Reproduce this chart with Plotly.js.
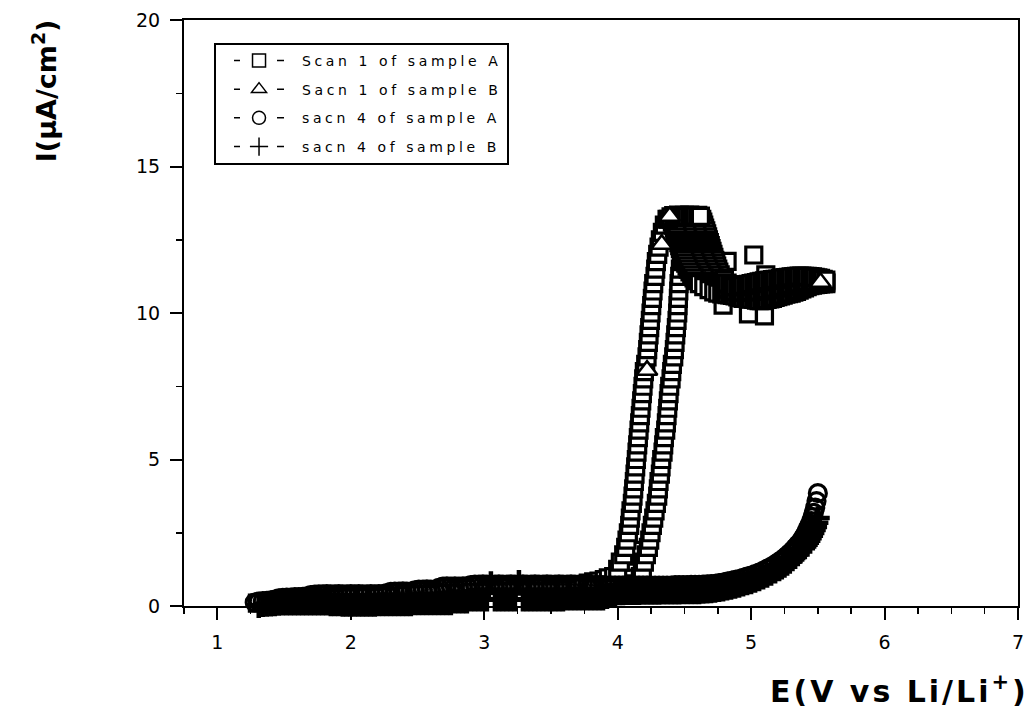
<!DOCTYPE html>
<html><head><meta charset="utf-8">
<script src="https://cdn.plot.ly/plotly-3.0.1.min.js"></script>
<style>
html,body{margin:0;padding:0;background:#fff}
#chart{width:1031px;height:721px}
.legendtext{letter-spacing:3.6px}
g.annotation[data-index="1"] text{letter-spacing:3px}
</style>
</head><body><div id="chart"></div>
<script>
// ---------- legend / series names ----------
const seriesNames = ["Scan 1 of sample A", "Sacn 1 of sample B", "sacn 4 of sample A", "sacn 4 of sample B"];
const xTickVals = [1, 2, 3, 4, 5, 6, 7];
const yTickVals = [0, 5, 10, 15, 20];

// ---------- Scan 1 of sample A (squares) ----------
const sqBandE = [1.30,1.40,1.50,1.60,1.70,1.80,1.90,2.00,2.10,2.20,2.30,2.40,2.50,2.60,2.70,2.80,2.90,3.00,3.10,3.20,3.30,3.40,3.50,3.60,3.70];
const sqBandI = [0.10,0.15,0.20,0.22,0.25,0.25,0.26,0.28,0.30,0.30,0.32,0.35,0.38,0.40,0.42,0.45,0.47,0.48,0.50,0.50,0.52,0.52,0.53,0.54,0.55];
const sqFootE = [3.74,3.78,3.82,3.86,3.90,3.93,4.08,4.09,4.10,4.11,4.12,4.13];
const sqFootI = [0.72,0.78,0.82,0.85,0.90,0.96,0.90,1.10,1.30,1.50,1.70,1.90];
const colI = [1.00,1.25,1.50,1.75,2.00,2.25,2.50,2.75,3.00,3.25,3.50,3.75,4.00,4.25,4.50,4.75,5.00,5.25,5.50,5.75,6.00,6.25,6.50,6.75,7.00,7.25,7.50,7.75,8.00,8.25,8.50,8.75,9.00,9.25,9.50,9.75,10.00,10.25,10.50,10.75,11.00,11.25,11.50,11.75,12.00,12.25,12.50,12.75,13.00,13.20];
const sqLeftE = [3.97,4.00,4.02,4.045,4.06,4.07,4.08,4.09,4.095,4.10,4.11,4.115,4.12,4.125,4.13,4.135,4.14,4.145,4.15,4.155,4.16,4.165,4.17,4.175,4.18,4.185,4.19,4.195,4.20,4.21,4.22,4.225,4.23,4.235,4.24,4.245,4.25,4.255,4.26,4.265,4.27,4.28,4.285,4.29,4.30,4.31,4.32,4.335,4.35,4.37];
const sqRightE = [4.17,4.185,4.20,4.215,4.23,4.24,4.25,4.26,4.27,4.28,4.29,4.30,4.305,4.31,4.32,4.325,4.33,4.34,4.345,4.35,4.36,4.365,4.37,4.375,4.38,4.385,4.39,4.40,4.405,4.41,4.42,4.425,4.43,4.435,4.44,4.445,4.45,4.452,4.455,4.458,4.46,4.465,4.47,4.48,4.49,4.50,4.515,4.53,4.55,4.58];
const sqScatE = [4.82,5.02,5.11,4.79,4.98,5.10];
const sqScatI = [11.76,11.98,11.30,10.27,9.97,9.90];
// peak lobe (descending branches)
const lobeOuterE = [4.620,4.630,4.638,4.645,4.652,4.660,4.667,4.674,4.680,4.687,4.694,4.700,4.707,4.714,4.721,4.728,4.735,4.742,4.750,4.758,4.768,4.780,4.795,4.815,4.840];
const lobeOuterI = [13.30,13.20,13.10,13.00,12.90,12.80,12.70,12.60,12.50,12.40,12.30,12.20,12.10,12.00,11.90,11.80,11.70,11.60,11.50,11.40,11.30,11.20,11.10,11.00,10.95];
const lobeMid2E = [4.540,4.555,4.560,4.570,4.575,4.580,4.590,4.595,4.600,4.608,4.615,4.620,4.628,4.635,4.643,4.650,4.660,4.670,4.680,4.692,4.705,4.722,4.740,4.762,4.790];
const lobeMid2I = [13.30,13.20,13.10,13.00,12.90,12.80,12.70,12.60,12.50,12.40,12.30,12.20,12.10,12.00,11.90,11.80,11.70,11.60,11.50,11.40,11.30,11.20,11.10,11.00,10.95];
const lobeMid1E = [4.460,4.480,4.485,4.495,4.500,4.505,4.515,4.520,4.525,4.533,4.540,4.545,4.553,4.560,4.568,4.575,4.585,4.595,4.605,4.617,4.630,4.647,4.665,4.687,4.720,4.760];
const lobeMid1I = [13.30,13.20,13.10,13.00,12.90,12.80,12.70,12.60,12.50,12.40,12.30,12.20,12.10,12.00,11.90,11.80,11.70,11.60,11.50,11.40,11.30,11.20,11.10,11.00,10.90,10.85];
const lobeInnerE = [4.405,4.410,4.420,4.425,4.430,4.440,4.445,4.450,4.458,4.465,4.470,4.478,4.485,4.493,4.500,4.510,4.520,4.530,4.542,4.555,4.572,4.590,4.612,4.645,4.685,4.720,4.750,4.780];
const lobeInnerI = [13.20,13.10,13.00,12.90,12.80,12.70,12.60,12.50,12.40,12.30,12.20,12.10,12.00,11.90,11.80,11.70,11.60,11.50,11.40,11.30,11.20,11.10,11.00,10.90,10.80,10.72,10.68,10.65];
const sqPeakE = [4.38,4.40,4.42,4.44,4.46,4.48,4.50,4.52,4.54,4.56,4.58,4.60,4.62];
const sqPeakI = [13.20,13.28,13.32,13.30,13.34,13.31,13.33,13.30,13.34,13.32,13.31,13.33,13.30];
// plateau
const platE = [4.80,4.82,4.84,4.86,4.88,4.90,4.92,4.94,4.96,4.98,5.00,5.02,5.04,5.06,5.08,5.10,5.12,5.14,5.16,5.18,5.20,5.22,5.24,5.26,5.28,5.30,5.32,5.34,5.36,5.38,5.40,5.42,5.44,5.46,5.48,5.50,5.52,5.54,5.56];
const platLowI = [10.65,10.63,10.62,10.60,10.58,10.55,10.52,10.50,10.50,10.48,10.47,10.46,10.44,10.42,10.42,10.44,10.46,10.48,10.50,10.53,10.56,10.58,10.61,10.64,10.66,10.68,10.71,10.74,10.78,10.82,10.86,10.90,10.93,10.95,10.97,10.98,10.99,11.00,11.00];
const platMidI = [10.90,10.85,10.80,10.76,10.74,10.72,10.72,10.72,10.73,10.73,10.74,10.74,10.75,10.75,10.76,10.78,10.80,10.81,10.83,10.85,10.87,10.89,10.91,10.93,10.95,10.97,10.99,11.01,11.03,11.05,11.07,11.08,11.09,11.09,11.09,11.08,11.07,11.06,11.05];
const platUpI = [11.12,11.02,10.96,10.92,10.90,10.90,10.92,10.94,10.96,10.98,11.00,11.02,11.04,11.06,11.08,11.10,11.11,11.12,11.14,11.15,11.16,11.18,11.20,11.21,11.22,11.23,11.24,11.25,11.26,11.26,11.25,11.25,11.24,11.23,11.22,11.20,11.18,11.15,11.12];

// ---------- Scan 1 of sample B (triangles) ----------
const triE = [1.35,1.80,2.30,2.80,3.30,3.80,4.22,4.33,4.39,5.52];
const triI = [0.12,0.25,0.35,0.45,0.55,0.62,8.05,12.35,13.30,11.05];

// ---------- Scan 4 of samples A (circles) and B (plus), shared potentials ----------
const E4 = [1.28,1.31,1.34,1.37,1.40,1.43,1.46,1.49,1.52,1.55,
1.58,1.61,1.64,1.67,1.70,1.73,1.76,1.79,1.82,1.85,
1.88,1.91,1.94,1.97,2.00,2.03,2.06,2.09,2.12,2.15,
2.18,2.21,2.24,2.27,2.30,2.33,2.36,2.39,2.42,2.45,
2.48,2.51,2.54,2.57,2.60,2.63,2.66,2.69,2.72,2.75,
2.78,2.81,2.84,2.87,2.90,2.93,2.96,2.99,3.02,3.05,
3.08,3.11,3.14,3.17,3.20,3.23,3.26,3.29,3.32,3.35,
3.38,3.41,3.44,3.47,3.50,3.53,3.56,3.59,3.62,3.65,
3.68,3.71,3.74,3.77,3.80,3.83,3.86,3.89,3.92,3.95,
3.98,4.01,4.04,4.07,4.10,4.13,4.16,4.19,4.22,4.25,
4.28,4.31,4.34,4.37,4.40,4.43,4.46,4.49,4.52,4.55,
4.58,
4.61,4.64,4.67,4.70,4.73,4.76,4.79,4.82,4.85,4.88,4.91,4.94,4.97,5.00,5.03,5.06,5.09,5.12,5.15,5.18,5.21,
5.23,5.25,5.27,5.29,5.31,5.33,5.35,5.37,5.39,5.40,5.41,5.42,5.43,5.44,5.45,5.46,5.47,5.48,5.49,5.50];
const I4A = [0.12,0.15,0.17,0.18,0.19,0.22,0.26,0.28,0.29,0.29,
0.30,0.30,0.31,0.33,0.37,0.39,0.40,0.40,0.41,0.40,
0.40,0.41,0.40,0.40,0.41,0.40,0.41,0.40,0.40,0.41,
0.40,0.41,0.41,0.44,0.48,0.49,0.49,0.50,0.49,0.49,
0.53,0.56,0.56,0.57,0.56,0.56,0.62,0.66,0.67,0.66,
0.67,0.66,0.67,0.67,0.71,0.73,0.73,0.74,0.73,0.73,
0.73,0.74,0.73,0.73,0.74,0.73,0.73,0.74,0.73,0.73,
0.74,0.73,0.73,0.74,0.73,0.73,0.74,0.73,0.73,0.74,
0.73,0.73,0.72,0.72,0.72,0.71,0.71,0.71,0.70,0.70,
0.70,0.70,0.70,0.70,0.70,0.70,0.70,0.70,0.70,0.70,
0.70,0.70,0.70,0.70,0.70,0.71,0.71,0.71,0.71,0.72,
0.72,
0.72,0.73,0.74,0.75,0.76,0.78,0.80,0.83,0.86,0.89,0.92,0.96,1.00,1.04,1.09,1.14,1.20,1.27,1.34,1.42,1.51,
1.57,1.64,1.72,1.80,1.89,1.99,2.09,2.20,2.33,2.40,2.48,2.58,2.68,2.78,2.90,3.03,3.18,3.36,3.58,3.85];
const I4B = [-0.02,0.00,0.03,0.04,0.05,0.06,0.07,0.08,0.08,0.08,
0.08,0.08,0.08,0.08,0.08,0.08,0.08,0.08,0.08,0.06,
0.06,0.06,0.04,0.04,0.04,0.04,0.04,0.04,0.04,0.04,
0.04,0.06,0.06,0.06,0.06,0.06,0.06,0.06,0.06,0.06,
0.09,0.09,0.09,0.09,0.09,0.09,0.09,0.09,0.09,0.09,
0.15,0.15,0.15,0.15,0.22,0.22,0.22,0.22,0.22,0.78,
0.22,0.22,0.22,0.22,0.22,0.22,0.82,0.22,0.22,0.22,
0.22,0.22,0.22,0.22,0.22,0.22,0.22,0.22,0.25,0.25,
0.25,0.25,0.25,0.25,0.25,0.25,0.25,0.25,0.30,0.36,
0.41,0.43,0.43,0.44,0.44,0.44,0.44,0.45,0.45,0.45,
0.45,0.45,0.46,0.46,0.46,0.46,0.46,0.47,0.47,0.47,
0.47,
0.47,0.48,0.49,0.50,0.52,0.54,0.56,0.59,0.62,0.65,0.69,0.73,0.77,0.81,0.86,0.91,0.97,1.03,1.10,1.17,1.25,
1.31,1.37,1.44,1.51,1.59,1.67,1.76,1.86,1.97,2.03,2.09,2.16,2.23,2.31,2.40,2.49,2.59,2.70,2.84,3.00];

// ---------- assemble ----------
const scan1A_E = [].concat(sqBandE, sqFootE, sqLeftE, sqRightE, sqScatE, lobeOuterE, lobeMid2E, lobeMid1E, lobeInnerE, sqPeakE, platE, platE, platE);
const scan1A_I = [].concat(sqBandI, sqFootI, colI, colI, sqScatI, lobeOuterI, lobeMid2I, lobeMid1I, lobeInnerI, sqPeakI, platLowI, platMidI, platUpI);

const plotSymbols = ['square', 'triangle-up', 'circle-open', 'cross-thin-open'];
const legendSymbols = ['square', 'triangle-up', 'circle', 'cross-thin-open'];
const dataX = [scan1A_E, triE, E4, E4];
const dataY = [scan1A_I, triI, I4A, I4B];
const dataSize = [16, 18, 17, 17];
const dataLine = [3.2, 2.5, 3.2, 4.5];

const traces = [];
for (let i = 0; i < 4; i++) {
  const open = plotSymbols[i].indexOf('open') >= 0;
  traces.push({
    type: 'scatter', mode: 'markers', x: dataX[i], y: dataY[i],
    showlegend: false, cliponaxis: false, hoverinfo: 'skip',
    marker: { symbol: plotSymbols[i], size: dataSize[i], color: open ? 'black' : 'white',
              line: { color: 'black', width: dataLine[i] } }
  });
}
for (let i = 0; i < 4; i++) {
  const isPlus = legendSymbols[i] === 'cross-thin-open';
  traces.push({
    type: 'scatter', mode: 'lines+markers', x: [null], y: [null], name: seriesNames[i],
    legendgroup: 'g' + i,
    line: { color: 'black', width: 1.5, dash: '0px,13px,6px,37px,7px,40px' },
    marker: { symbol: legendSymbols[i], size: 13, color: isPlus ? 'black' : 'white',
              line: { color: 'black', width: 1.5 } }
  });
}

const tickFont = { family: 'DejaVu Sans', size: 19, color: 'black' };
const layout = {
  width: 1031, height: 721,
  margin: { l: 184, r: 13, t: 20, b: 115, pad: 0 },
  paper_bgcolor: 'white', plot_bgcolor: 'white',
  showlegend: true,
  legend: {
    x: 0.036, y: 0.961, xanchor: 'left', yanchor: 'top',
    bgcolor: 'white', bordercolor: 'black', borderwidth: 2,
    font: { family: 'DejaVu Sans', size: 14, color: 'black' },
    itemwidth: 76, tracegroupgap: 7.5, traceorder: 'grouped'
  },
  xaxis: {
    range: [0.75, 7], tickvals: xTickVals, ticktext: xTickVals.map(String),
    showgrid: false, zeroline: false,
    showline: true, linecolor: 'black', linewidth: 2, mirror: true,
    ticks: 'outside', ticklen: 12, tickwidth: 2, tickcolor: 'black',
    ticklabelstandoff: 6,
    minor: { dtick: 0.25, tick0: 0.75, ticks: 'outside', ticklen: 6, tickwidth: 1.5, tickcolor: 'black', showgrid: false },
    tickfont: tickFont
  },
  yaxis: {
    range: [0, 20], tickvals: yTickVals, ticktext: yTickVals.map(String),
    showgrid: false, zeroline: false,
    showline: true, linecolor: 'black', linewidth: 2, mirror: true,
    ticks: 'outside', ticklen: 12, tickwidth: 2, tickcolor: 'black',
    ticklabelstandoff: 6,
    minor: { dtick: 2.5, tick0: 0, ticks: 'outside', ticklen: 6, tickwidth: 1.5, tickcolor: 'black', showgrid: false },
    tickfont: tickFont
  },
  annotations: [
    { xref: 'paper', yref: 'paper', x: -0.168, y: 0.88, xanchor: 'center', yanchor: 'middle',
      textangle: -90, showarrow: false,
      text: 'I(μA/cm<sup>2</sup>)', font: { family: 'DejaVu Sans', size: 27, color: 'black', weight: 'bold' } },
    { xref: 'paper', yref: 'paper', x: 0.858, y: -0.143, xanchor: 'center', yanchor: 'middle',
      showarrow: false,
      text: 'E(V vs Li/Li<sup>+</sup>)', font: { family: 'DejaVu Sans', size: 30, color: 'black', weight: 'bold' } }
  ]
};

Plotly.newPlot('chart', traces, layout, { displayModeBar: false, staticPlot: true });
</script>
</body></html>
